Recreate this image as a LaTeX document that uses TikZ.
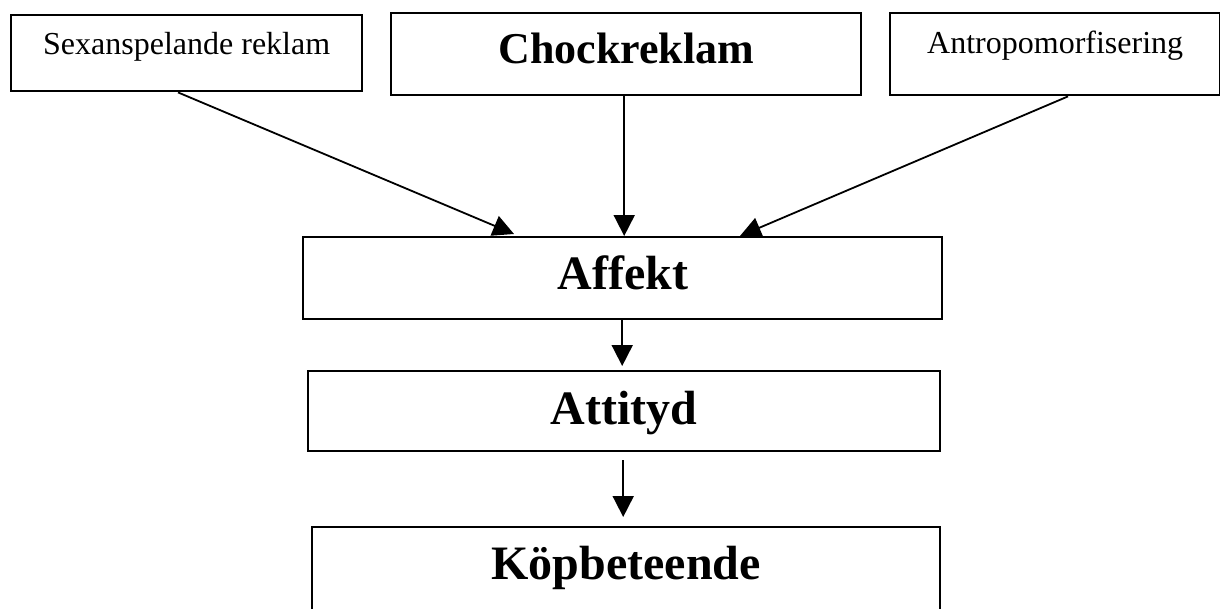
\documentclass[tikz,border=0pt]{standalone}
\usepackage{fontspec}
\setmainfont{Liberation Serif}
\usetikzlibrary{arrows.meta}
\tikzset{
  box/.style={draw, line width=2.4pt, anchor=north west, inner sep=0pt, align=center},
  arr/.style={line width=1.8pt, -{Triangle[length=21pt,width=21pt]}},
  smalltxt/.style={font=\fontsize{32}{38}\selectfont},
  bigtxt/.style={font=\fontsize{48}{56}\selectfont\bfseries},
}
\begin{document}
\begin{tikzpicture}[x=1pt,y=-1pt]
\useasboundingbox (0,0) rectangle (1220,608);
\clip (0,0) rectangle (1220,608);
\fill[white] (0,0) rectangle (1220,608);
% top row
\node[box, smalltxt, minimum width=351pt, text height=39pt, text depth=37pt] (sex) at (10,14) {Sexanspelande reklam};
\node[box, font=\fontsize{44}{52}\selectfont\bfseries, minimum width=470pt, text height=50pt, text depth=32pt] (chock) at (390,12) {Chockreklam};
\node[box, smalltxt, minimum width=330pt, text height=40pt, text depth=42pt] (antro) at (889,12) {Antropomorfisering};
% middle / bottom
\node[box, bigtxt, minimum width=639pt, text height=52pt, text depth=30pt] (aff) at (302,236) {Affekt};
\node[box, bigtxt, minimum width=632pt, text height=53pt, text depth=27pt] (att) at (307,370) {Attityd};
\node[box, bigtxt, minimum width=628pt, text height=52pt, text depth=72pt] (kop) at (311,526) {Köpbeteende};
% arrows
\draw[arr] ([xshift=168pt]sex.south west) -- ([xshift=212pt,yshift=2pt]aff.north west);
\draw[arr] ([xshift=-2pt]chock.south) -- ([xshift=1.5pt]aff.north);
\draw[arr] ([xshift=179pt]antro.south west) -- ([xshift=438pt]aff.north west);
\draw[arr] ([xshift=-0.5pt,yshift=2pt]aff.south) -- ([xshift=-2pt,yshift=4pt]att.north);
\draw[arr] ([xshift=-1pt,yshift=-8pt]att.south) -- ([xshift=-3pt,yshift=9pt]kop.north);
\end{tikzpicture}
\end{document}
